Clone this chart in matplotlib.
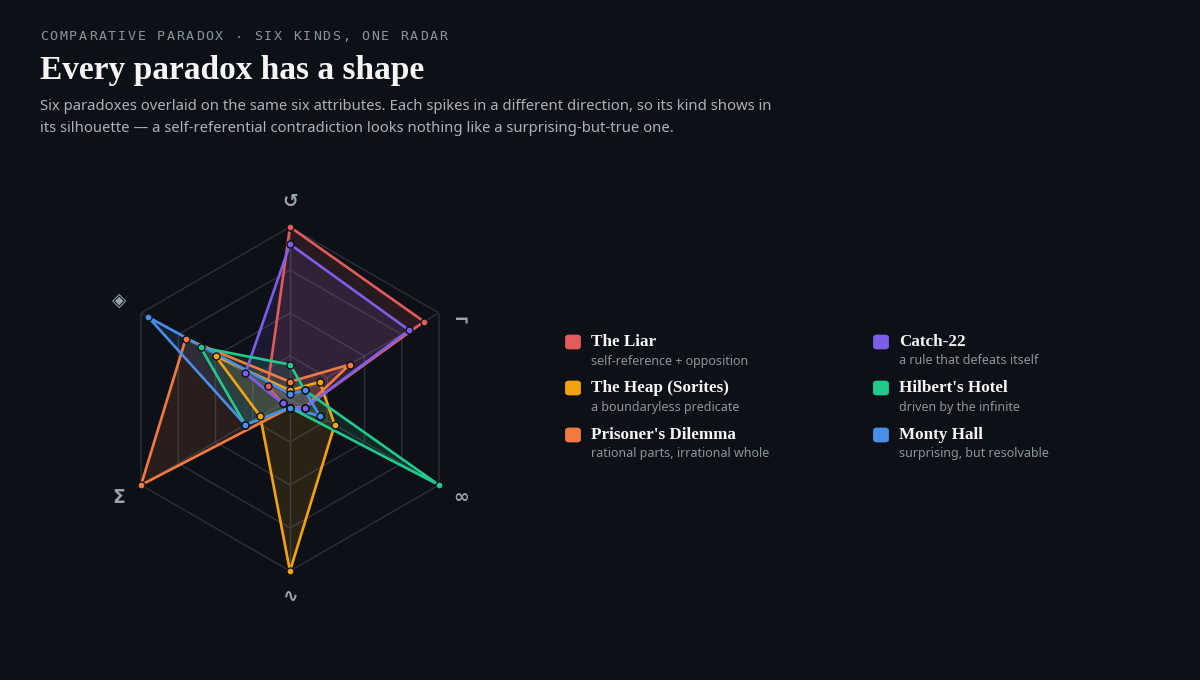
import numpy as np
import matplotlib.pyplot as plt
from matplotlib.patches import FancyBboxPatch

# attributes, clockwise from the top
axis_labels = ['↺', '¬', '∞', '∿', 'Σ', '◈']

names = ['The Liar', 'The Heap (Sorites)', "Prisoner's Dilemma",
         'Catch-22', "Hilbert's Hotel", 'Monty Hall']
notes = ['self-reference + opposition', 'a boundaryless predicate',
         'rational parts, irrational whole', 'a rule that defeats itself',
         'driven by the infinite', 'surprising, but resolvable']
colors = ['#e25b5b', '#f2a30f', '#f27a42', '#7c5ee8', '#22c98c', '#4a8fe7']

liar     = [1.00, 0.90, 0.10, 0.05, 0.05, 0.15]
heap     = [0.05, 0.20, 0.30, 1.00, 0.20, 0.50]
prisoner = [0.10, 0.40, 0.10, 0.05, 1.00, 0.70]
catch22  = [0.90, 0.80, 0.10, 0.05, 0.05, 0.30]
hilbert  = [0.20, 0.10, 1.00, 0.05, 0.30, 0.60]
monty    = [0.03, 0.10, 0.20, 0.05, 0.30, 0.95]
series = [liar, heap, prisoner, catch22, hilbert, monty]

bg = '#0d1117'
grid_c = '#2a313c'

fig = plt.figure(figsize=(12, 6.8), dpi=100, facecolor=bg)

# header
eyebrow = 'COMPARATIVE PARADOX · SIX KINDS, ONE RADAR'
for i, ch in enumerate(eyebrow):
    fig.text((40 + i * 9.74) / 1200, 1 - 37 / 680, ch, color='#8b949e',
             fontsize=9.5, family='DejaVu Sans Mono', va='center', ha='left')
fig.text(40 / 1200, 1 - 70 / 680, 'Every paradox has a shape', color='#f5f5f5',
         fontsize=24, family='Liberation Serif', weight='bold', va='center')
fig.text(40 / 1200, 1 - 106 / 680,
         'Six paradoxes overlaid on the same six attributes. Each spikes in a '
         'different direction, so its kind shows in', color='#a9b1bb',
         fontsize=10.7, family='Noto Sans', va='center')
fig.text(40 / 1200, 1 - 129 / 680,
         'its silhouette — a self-referential contradiction looks nothing like '
         'a surprising-but-true one.', color='#a9b1bb',
         fontsize=10.7, family='Noto Sans', va='center')

# radar
cx, cy, R = 290, 399, 172
ax = fig.add_axes([(cx - R) / 1200, 1 - (cy + R) / 680, 2 * R / 1200, 2 * R / 680],
                  projection='polar', facecolor='none')
ax.set_theta_offset(np.pi / 2)
ax.set_theta_direction(-1)
ax.set_ylim(0, 1)
ax.axis('off')

theta = np.arange(6) * np.pi / 3
closed = np.append(theta, theta[0])
for lvl in [0.25, 0.5, 0.75, 1.0]:
    ax.plot(closed, [lvl] * 7, color=grid_c, lw=1, zorder=1)
for t in theta:
    ax.plot([t, t], [0, 1], color=grid_c, lw=1, zorder=1)

for vals, c in zip(series, colors):
    v = np.append(vals, vals[0])
    ax.fill(closed, v, color=c, alpha=0.13, lw=0, zorder=2)
    ax.plot(closed, v, color=c, lw=1.9, zorder=3)
    ax.scatter(theta, vals, s=26, color=c, edgecolor=bg, linewidth=1.0,
               zorder=4, clip_on=False)

label_dy = [0, -14, 0, 0, 0, 0]
for t, lab, dy in zip(theta, axis_labels, label_dy):
    ax.annotate(lab, (t, 1.15), xytext=(0, dy), textcoords='offset points',
                color='#9aa3ae', fontsize=13.5, weight='bold',
                family='DejaVu Sans', ha='center', va='center',
                annotation_clip=False)

# legend
rows = [342, 388, 435]
cols = [573, 881]
for i, (n, d, c) in enumerate(zip(names, notes, colors)):
    x = cols[i // 3]
    y = rows[i % 3]
    fig.patches.append(FancyBboxPatch(((x - 6) / 1200, 1 - (y + 6) / 680),
                                      12 / 1200, 12 / 680,
                                      boxstyle='round,pad=0.001,rounding_size=0.003',
                                      transform=fig.transFigure, color=c))
    fig.text((x + 18) / 1200, 1 - y / 680, n, color='#f5f5f5', fontsize=12.3,
             family='Liberation Serif', weight='bold', va='center')
    fig.text((x + 18) / 1200, 1 - (y + 19) / 680, d, color='#8b949e',
             fontsize=9.0, family='Noto Sans', va='center')

fig.savefig('out.png', dpi=100, facecolor=bg)
